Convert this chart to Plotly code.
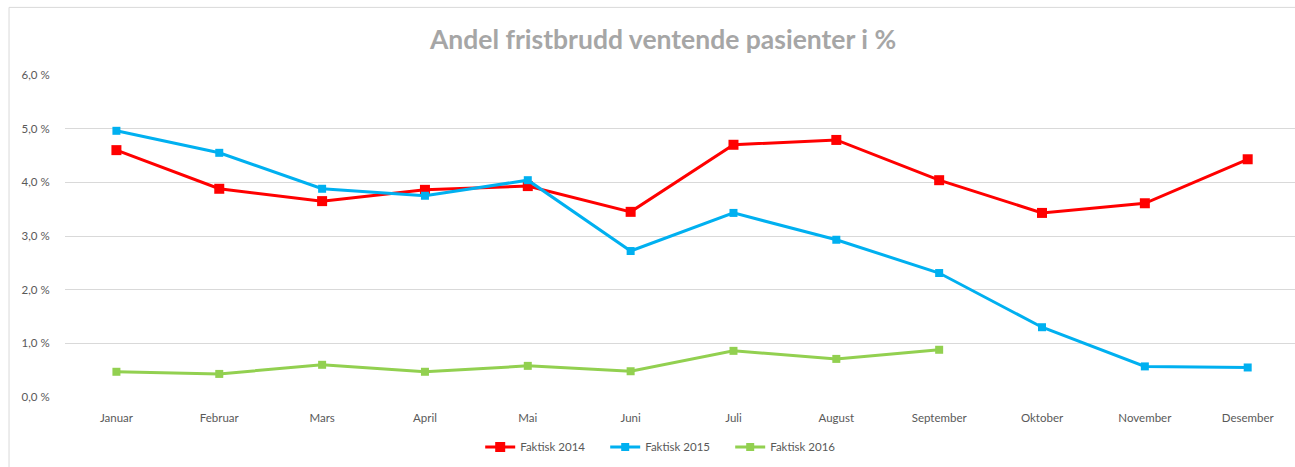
import plotly.graph_objects as go

months = ["Januar", "Februar", "Mars", "April", "Mai", "Juni", "Juli",
          "August", "September", "Oktober", "November", "Desember"]
faktisk_2014 = [4.60, 3.88, 3.65, 3.86, 3.93, 3.45, 4.70, 4.79, 4.04, 3.43, 3.61, 4.43]
faktisk_2015 = [4.96, 4.55, 3.88, 3.75, 4.04, 2.72, 3.43, 2.93, 2.31, 1.30, 0.57, 0.55]
faktisk_2016 = [0.47, 0.43, 0.60, 0.47, 0.58, 0.48, 0.86, 0.71, 0.88]
y_ticks = [0, 1, 2, 3, 4, 5, 6]
y_tick_labels = ["0,0 %", "1,0 %", "2,0 %", "3,0 %", "4,0 %", "5,0 %", "6,0 %"]

FONT = "Lato"
fig = go.Figure()
fig.add_trace(go.Scatter(x=months, y=faktisk_2014, mode="lines+markers", name="Faktisk 2014",
                         line=dict(color="#FF0000", width=3),
                         marker=dict(symbol="square", size=10, color="#FF0000")))
fig.add_trace(go.Scatter(x=months, y=faktisk_2015, mode="lines+markers", name="Faktisk 2015",
                         line=dict(color="#00B0F0", width=3),
                         marker=dict(symbol="square", size=8, color="#00B0F0")))
fig.add_trace(go.Scatter(x=months[:len(faktisk_2016)], y=faktisk_2016, mode="lines+markers",
                         name="Faktisk 2016",
                         line=dict(color="#92D050", width=3),
                         marker=dict(symbol="square", size=8, color="#92D050")))

fig.update_layout(
    width=1295, height=467,
    margin=dict(l=65, r=0, t=75, b=70),
    paper_bgcolor="white", plot_bgcolor="white",
    font=dict(family=FONT, size=11, color="#595959"),
    title=dict(text="<b>Andel fristbrudd ventende pasienter i %</b>",
               x=0.512, xanchor="center", y=0.915, yanchor="middle",
               font=dict(family=FONT, size=26.5, color="#A6A6A6")),
    xaxis=dict(type="category", categoryorder="array", categoryarray=months,
               range=[-0.5, 11.46], showgrid=False, showline=False, zeroline=False,
               ticks="outside", ticklen=10, tickcolor="rgba(0,0,0,0)",
               tickfont=dict(size=11.5, color="#595959")),
    yaxis=dict(range=[0, 6], tickvals=y_ticks, ticktext=y_tick_labels,
               showgrid=True, gridcolor="#D9D9D9", gridwidth=1.3, zeroline=False,
               showline=False, ticks="outside", ticklen=12, tickcolor="rgba(0,0,0,0)",
               tickfont=dict(size=11.5, color="#595959")),
    legend=dict(orientation="h", x=0.49, xanchor="center", y=-0.155, yanchor="middle",
                font=dict(size=11.5, color="#595959"), itemwidth=30,
                entrywidth=80),
    showlegend=True,
)
fig.add_shape(type="rect", xref="paper", yref="paper", x0=-0.0455, x1=1.01, y0=-0.3, y1=1.21,
              line=dict(color="#D9D9D9", width=1), layer="below")

fig.write_html("out.html", config={"displayModeBar": False},
               post_script="document.body.style.margin='0';document.body.style.overflow='hidden';")
